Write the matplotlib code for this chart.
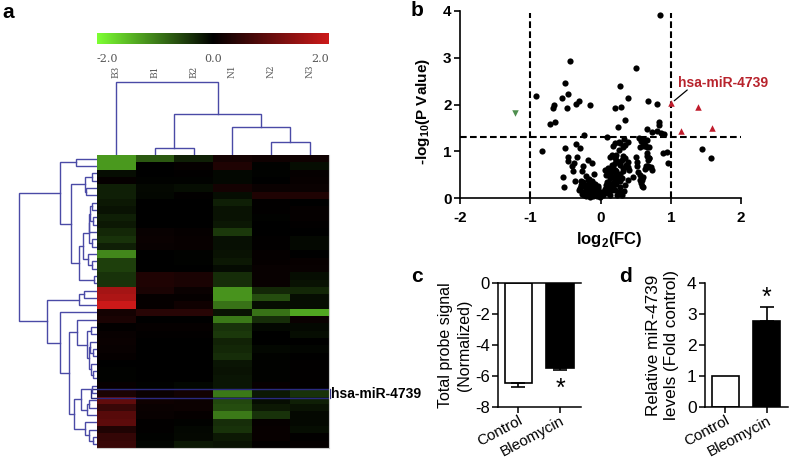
import numpy as np
import matplotlib
matplotlib.use('Agg')
import matplotlib.pyplot as plt
from matplotlib.colors import LinearSegmentedColormap

plt.rcParams['font.family'] = ['Liberation Sans', 'DejaVu Sans']
plt.rcParams['axes.unicode_minus'] = False
plt.rcParams['mathtext.fontset'] = 'custom'
plt.rcParams['mathtext.bf'] = 'Liberation Sans:bold'

W, H = 790, 459

#heatmap values, one row per probe
col_labels = ['B3', 'B1', 'B2', 'N1', 'N2', 'N3']
heat = np.array([
    [-1.2, -.7, -.25, .2, .15, .15],
    [-1.2, 0, .05, .3, -.03, -.1],
    [-.1, 0, .03, -.05, -.02, .05],
    [.05, -.03, -.03, -.05, 0, .07],
    [-.25, -.07, -.1, .2, .1, .1],
    [-.25, -.05, .02, -.1, .3, .3],
    [-.2, 0, 0, -.25, .02, 0],
    [-.15, 0, 0, -.15, .02, .05],
    [-.25, 0, 0, -.15, -.02, .05],
    [-.2, 0, 0, -.18, 0, .03],
    [-.3, .08, .05, -.45, 0, 0],
    [-.4, .1, .07, -.12, .03, -.07],
    [-.25, .08, .07, -.12, .03, -.07],
    [-1.05, 0, -.03, -.15, .05, 0],
    [-.5, 0, -.03, -.2, .05, .07],
    [-.5, 0, 0, -.08, .08, .08],
    [-.4, .3, .25, -.35, .08, -.1],
    [-.4, .3, .25, -.35, .08, -.15],
    [1.6, .25, .1, -1.15, -.3, -.3],
    [1.7, .05, .05, -1.15, -.6, -.1],
    [2.0, .05, .15, -.9, -.1, -.1],
    [.2, .4, .4, -.15, -.9, -1.3],
    [.25, 0, 0, -.95, -.35, .1],
    [.03, .05, .05, -.4, -.05, -.07],
    [.08, .02, .02, -.45, 0, -.1],
    [.1, 0, 0, -.28, 0, 0],
    [.08, 0, 0, -.3, -.06, -.04],
    [.05, 0, 0, -.35, -.03, 0],
    [0, 0, 0, -.17, -.02, .02],
    [-.02, 0, 0, -.15, -.02, .03],
    [-.02, 0, 0, -.17, -.02, .03],
    [.07, -.03, -.05, -.17, .07, .03],
    [.25, .1, .18, -.95, -.2, -.4],
    [.95, .15, .12, -.55, -.1, -.25],
    [.55, .1, .12, -.6, -.2, -.15],
    [.85, .08, .05, -.95, -.4, -.07],
    [.9, .02, -.03, -.35, .05, -.07],
    [.3, .02, -.05, -.4, .07, -.1],
    [.5, -.02, -.07, -.2, .07, .03],
    [.55, -.04, -.18, -.15, .02, .05],
])
highlight_row = 32

#trees as (merge distance, child, child), ints are leaves
col_tree = (73.3, 0, (41.3, (7.3, 1, 2), (28.3, 3, (13, 4, 5))))
rows_a = (8, (7, (5, 6, 7), (4, 8, 9)), 10)
rows_b = (14, (8, rows_a, (5, 11, 12)), (9, 13, (5, 14, 15)))
upper = (37, (21, 0, 1), (26, (12, (5, 2, 3), (11, 4, 5)), (18, rows_b, (3, 16, 17))))
rows_c = (8, (7, 25, (4, 26, 27)), (6, 28, (4, 29, 30)))
rows_d = (16.3, (5, 31, 32), (10, (7.7, 33, 34), 35))
rows_e = (12.3, 36, (8.3, 37, (3.7, 38, 39)))
lower = (49.7, (18.3, (13, 18, 19), 20),
         (37, 21, (27.7, (20, 22, (10, (6, 23, 24), rows_c)), (23.3, rows_d, rows_e))))
row_tree = (77.7, upper, lower)

#volcano plot
vol_x = [-.44, -.505, -.914, -.544, -.458, -.662, -.68, -.306, -.349, -.473, -.15, .2, .292, .278, .387, .5, .68, .85,
         -.719, -.643, -.235, .088, .253, .353, .658, -.828, -.505, -.349, -.292,
         -.458, -.467, -.33, -.377, -.401, -.396, -.174, -.125, -.245, -.268, -.53, -.52, -.367, -.088, -.206,
         -.174, -.245, -.15, -.292, -.22, -.125, -.078, -.031, -.245, -.174, -.1, -.031, -.007, -.19, -.05,
         .16, .088, .04, .11, .088, .135, .135, .206, .16, .206, .16, .2, .3, .35, .396, .278, .396, .325, .21, .16,
         .23, .18, .28, .35, .467, .39, .2, .24, .278, .182, .335, .396, .325, .268,
         .505, .524, .515, .538, .562, .586, .595, .552, .61, .562, .658, .658, .68, .66,
         .8, .833, .833, .729, .8, .861, .904, .6, .633, .695, 1.44, 1.568, .885, .942, .965,
         .69, .643, .68, .737, .586, .6, -.13, -.06, .02, .07, .12, -.2, .28, .26,
         -.3, -.27, -.24, -.21, -.18, -.15, -.12, -.09, -.06, -.03, -.28, -.2, -.14, -.1, -.06, -.02, .01, -.16, -.12, -.08,
         -.22, -.1, -.15, -.28, .04, .06, .08, .1, .12, .14, .16, .18, .2, .22, .06, .1, .14, .18, .22, .26, .3, .34,
         .08, .12, .16, .2, .24, .28, .32, .36, .18, .22, .26, .3, .24, .28, .32, .36, .4,
         .56, .58, .6, .64, .68, .72, .66, .69, .58, .62, .66, .2, .27, .35, .22, .13, .2]
vol_y = [2.92, 2.465, 2.19, 2.145, 2.217, 2.0, 1.93, 2.075, 2.017, 1.93, 1.99, 1.92, 1.94, 2.395, 2.145, 2.77, 2.075, 3.91,
         1.59, 1.63, 1.356, 1.3, 1.52, 1.676, 1.478, 1.015, 1.08, 1.164, 1.066,
         .887, .789, .874, .759, .689, .576, .817, .746, .689, .582, .454, .247, .362, .518, .475,
         .39, .354, .32, .213, .234, .234, .234, .213, .14, .107, .14, .107, .034, .29, .05,
         .177, .107, .07, .213, .354, .426, .53, .603, .71, .75, .923, .88, .817, .853, .78, .71, .674, .64, .56, .45,
         .39, .32, .36, .284, .448, .39, .18, .07, 1.17, 1.12, 1.26, 1.207, 1.1, 1.03,
         .887, .78, .689, .568, .497, .39, .262, 1.28, 1.17, 1.1, 1.1, .97, .82, .68,
         2.017, 1.633, 1.563, 1.407, 1.435, 1.4, 1.371, 1.264, 1.136, 1.1, 1.058, .866, .96, .987, .746,
         .853, .689, .661, .603, .43, .25, .06, .16, .12, .2, .27, .1, .25, .14,
         .17, .1, .08, .15, .2, .12, .18, .3, .14, .27, .28, .05, .06, .09, .18, .09, .13, .42, .36, .3,
         .12, .04, .03, .36, .12, .17, .28, .18, .33, .08, .25, .29, .4, .47, .6, .64, .5, .22, .3, .14, .08, .16,
         .5, .55, .62, .47, .43, .52, .58, .66, .68, .58, .5, .44, .8, .76, .9, .72, .6,
         .4, .33, .45, .63, .69, .66, .9, .86, 1.22, 1.12, 1.25, 1.18, 1.2, 1.14, .92, .88, .85]
up_x = [1.004, 1.388, 1.15, 1.592]
up_y = [2.025, 1.947, 1.44, 1.5]
down_x = [-1.213]
down_y = [1.81]
fc_cut = [-1, 1]
p_cut = 1.3

#bar panels
bar_labels = ['Control', 'Bleomycin']
c_vals = [-6.49, -5.51]
c_errs = [.23, .09]
d_vals = [1.0, 2.77]
d_errs = [0, .45]


def add_ax(left, top, right, bottom):
    return fig.add_axes([left / W, 1 - bottom / H, (right - left) / W, (bottom - top) / H])


def draw_tree(ax, node, horizontal):
    if isinstance(node, int):
        return node, 0
    d, a, b = node
    pa, da = draw_tree(ax, a, horizontal)
    pb, db = draw_tree(ax, b, horizontal)
    xs = [da, d, d, db]
    ys = [pa, pa, pb, pb]
    if horizontal:
        ax.plot(ys, xs, color='#4a4aa6', lw=1.0, solid_joinstyle='miter')
    else:
        ax.plot(xs, ys, color='#4a4aa6', lw=1.0, solid_joinstyle='miter')
    return (pa + pb) / 2, d


fig = plt.figure(figsize=(W / 100, H / 100), dpi=100)
cmap = LinearSegmentedColormap.from_list('gbr', [(.49, 1, .2), (0, 0, 0), (.8, .1, .1)])

#a
ax = add_ax(97, 155, 329, 448)
ax.imshow(heat, cmap=cmap, vmin=-2, vmax=2, aspect='auto', interpolation='nearest')
ax.set_xticks([])
ax.set_yticks([])
for s in ['top', 'left']:
    ax.spines[s].set_visible(False)
for s in ['right', 'bottom']:
    ax.spines[s].set_color('#cccccc')
ax.add_patch(plt.Rectangle((-.65, highlight_row - .6), 6.18, 1.3, fill=False, ec='#2a2a80', lw=1.0, clip_on=False))

ax = add_ax(97, 33, 329, 44)
ax.imshow(np.linspace(-2, 2, 256)[None, :], cmap=cmap, vmin=-2, vmax=2, aspect='auto', extent=[-2, 2, 0, 1])
ax.axis('off')
for v, ha, lab in [(-2, 'left', '-2.0'), (0, 'center', '0.0'), (2, 'right', '2.0')]:
    fig.text((213 + v * 58) / W, 1 - 59 / H, lab, ha=ha, va='center', fontsize=8, color='#555555',
             family=['DejaVu Serif'])

ax = add_ax(97, 81, 329, 155)
ax.set_xlim(-.5, 5.5)
ax.set_ylim(0, 74)
ax.axis('off')
draw_tree(ax, col_tree, True)
for i, lab in enumerate(col_labels):
    ax.text(i, 77, lab, rotation=90, ha='center', va='bottom', fontsize=6.5, color='#555555',
            family=['DejaVu Serif'], clip_on=False)

ax = add_ax(0, 155, 97, 448)
ax.set_xlim(97, 0)
ax.set_ylim(39.5, -.5)
ax.axis('off')
draw_tree(ax, row_tree, False)

fig.text(331 / W, 1 - 393.5 / H, 'hsa-miR-4739', ha='left', va='center', fontsize=10, fontweight='bold')

#b
ax = add_ax(460, 10.7, 741, 198.3)
ax.scatter(vol_x, vol_y, s=20, c='black', linewidths=0, clip_on=False, zorder=3)
ax.scatter(up_x, up_y, s=22, marker='^', c='#c01c2c', linewidths=0, zorder=4)
ax.scatter(down_x, down_y, s=22, marker='v', c='#4f8f4f', linewidths=0, zorder=4)
for v in fc_cut:
    ax.plot([v, v], [0, 3.95], color='black', lw=1.5, ls=(0, (3.2, 1.6)))
ax.plot([-2, 2], [p_cut, p_cut], color='black', lw=1.5, ls=(0, (3.2, 1.6)))
ax.set_xlim(-2, 2)
ax.set_ylim(0, 4)
ax.set_xticks([-2, -1, 0, 1, 2])
ax.set_yticks([0, 1, 2, 3, 4])
for s in ['top', 'right']:
    ax.spines[s].set_visible(False)
for s in ['left', 'bottom']:
    ax.spines[s].set_linewidth(1.2)
ax.tick_params(width=1.2, length=4, labelsize=11, pad=2)
ax.tick_params(axis='x', pad=5)
for t in ax.get_xticklabels() + ax.get_yticklabels():
    t.set_fontweight('bold')
ax.set_xlabel(r'log$_\mathbf{2}$(FC)', fontsize=12, fontweight='bold', labelpad=4, x=0.53)
ax.set_ylabel(r'-log$_\mathbf{10}$(P Value)', fontsize=11, fontweight='bold', labelpad=8, y=0.46)
ax.annotate('', xy=(1.05, 2.08), xytext=(1.235, 2.31),
            arrowprops=dict(arrowstyle='-', color='black', lw=.9, shrinkA=0, shrinkB=0))
ax.text(1.1, 2.46, 'hsa-miR-4739', color='#b8232c', fontsize=10, fontweight='bold', va='center', clip_on=False)

#c
ax = add_ax(498, 283.3, 581, 406.7)
pos = [518.3, 560]
ax.bar(pos[0], c_vals[0], width=27.5, color='white', edgecolor='black', lw=1.2,
       yerr=[[c_errs[0]], [0]], error_kw=dict(ecolor='black', elinewidth=1.2, capsize=5, capthick=1.2))
ax.bar(pos[1], c_vals[1], width=28, color='black', edgecolor='black', lw=1.2,
       yerr=[[c_errs[1]], [0]], error_kw=dict(ecolor='black', elinewidth=1.2, capsize=5, capthick=1.2))
ax.set_xlim(498, 581)
ax.set_ylim(-8, 0)
ax.set_yticks([0, -2, -4, -6, -8])
ax.set_xticks(pos)
ax.set_xticklabels(bar_labels, rotation=28, ha='right', rotation_mode='anchor', fontsize=11)
ax.spines['right'].set_visible(False)
for s in ['left', 'bottom', 'top']:
    ax.spines[s].set_linewidth(1.1)
ax.tick_params(axis='y', width=1.1, length=4, labelsize=12, pad=2)
ax.tick_params(axis='x', width=1.1, length=4, pad=1)
ax.set_ylabel('Total probe signal\n(Normalized)', fontsize=11.5, labelpad=2, linespacing=1.3)
ax.text(pos[1], -6.85, '*', ha='center', va='center', fontsize=18)

#d
ax = add_ax(705, 283.3, 788, 406.7)
pos = [725.3, 766.7]
ax.bar(pos[0], d_vals[0], width=27.5, color='white', edgecolor='black', lw=1.2)
ax.bar(pos[1], d_vals[1], width=27.5, color='black', edgecolor='black', lw=1.2,
       yerr=[[0], [d_errs[1]]], error_kw=dict(ecolor='black', elinewidth=1.2, capsize=5, capthick=1.2))
ax.set_xlim(705, 788)
ax.set_ylim(0, 4)
ax.set_yticks([0, 1, 2, 3, 4])
ax.set_xticks(pos)
ax.set_xticklabels(bar_labels, rotation=28, ha='right', rotation_mode='anchor', fontsize=11)
for s in ['top', 'right']:
    ax.spines[s].set_visible(False)
for s in ['left', 'bottom']:
    ax.spines[s].set_linewidth(1.1)
ax.tick_params(axis='y', width=1.1, length=4, labelsize=12.5, pad=2)
ax.tick_params(axis='x', width=1.1, length=4, pad=1)
ax.set_ylabel('Relative miR-4739\nlevels (Fold control)', fontsize=12.3, labelpad=6, linespacing=1.2)
ax.text(pos[1], 3.52, '*', ha='center', va='center', fontsize=18)

for lab, x, y in [('a', 2, 13), ('b', 411, 11), ('c', 411, 277), ('d', 619, 277)]:
    fig.text(x / W, 1 - y / H, lab, fontsize=15, fontweight='bold', ha='left', va='center')

fig.savefig('out.png', dpi=100)
